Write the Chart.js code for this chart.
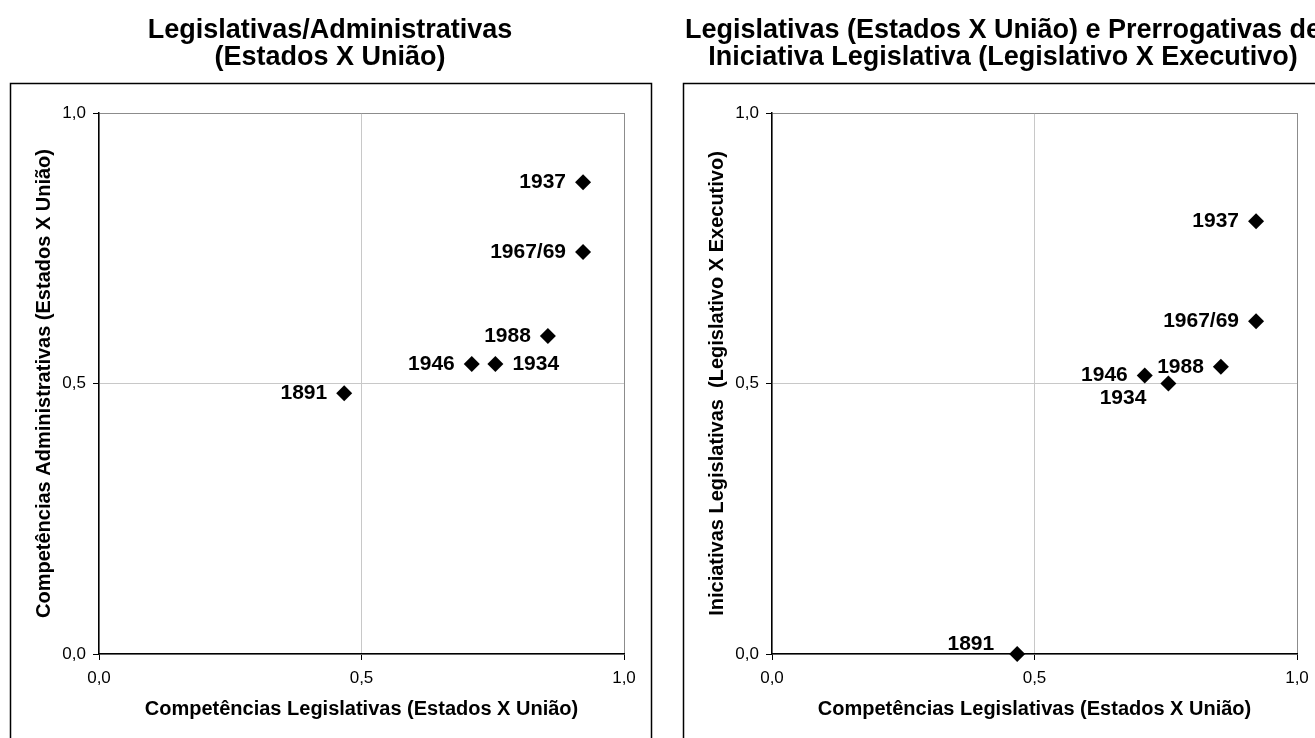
<!DOCTYPE html>
<html>
<head>
<meta charset="utf-8">
<script src="https://cdn.jsdelivr.net/npm/chart.js@4.4.0/dist/chart.umd.min.js"></script>
<style>
  html, body { margin: 0; padding: 0; background: #fff; overflow: hidden; width: 1315px; height: 738px; }
  .box { position: absolute; top: 0; width: 660px; height: 738px; }
  #boxA { left: 0; }
  #boxB { left: 673px; }
</style>
</head>
<body>
<div class="box" id="boxA"><canvas id="chartA"></canvas></div>
<div class="box" id="boxB"><canvas id="chartB"></canvas></div>
<script>
// data
const years = ['1891', '1934', '1937', '1946', '1967/69', '1988'];
const legislativas = [0.467, 0.755, 0.922, 0.710, 0.922, 0.855];
const administrativas = [0.482, 0.536, 0.872, 0.536, 0.743, 0.588];
const iniciativas = [0.0, 0.5, 0.80, 0.515, 0.615, 0.531];
const tickLabels = ['0,0', '0,5', '1,0'];

const titleA = ['Legislativas/Administrativas', '(Estados X União)'];
const titleB = ['Legislativas (Estados X União) e Prerrogativas de', 'Iniciativa Legislativa (Legislativo X Executivo)'];
const xTitle = 'Competências Legislativas (Estados X União)';
const yTitleA = 'Competências Administrativas (Estados X União)';
const yTitleB = 'Iniciativas Legislativas  (Legislativo X Executivo)';

// where each year label sits next to its diamond
const placementA = ['left', 'right', 'left', 'left', 'left', 'left'];
const placementB = ['upLeft', 'downLeft', 'left', 'left', 'left', 'left'];

const FONT = '"Liberation Sans", Arial, sans-serif';

const labelSpots = {
  left: { dx: -17, dy: 0, align: 'right' },
  right: { dx: 17, dy: 0, align: 'left' },
  upLeft: { dx: -23, dy: -10, align: 'right' },
  downLeft: { dx: -22, dy: 15, align: 'right' }
};

// outer frame + two-line title
const frameTitle = {
  id: 'frameTitle',
  beforeDraw(chart, args, opts) {
    const ctx = chart.ctx;
    ctx.save();
    ctx.fillStyle = '#fff';
    ctx.fillRect(0, 0, chart.width, chart.height);
    ctx.strokeStyle = '#000';
    ctx.lineWidth = 1.5;
    ctx.strokeRect(10.5, 83.5, 641, 720);
    ctx.fillStyle = '#000';
    ctx.font = 'bold 27px ' + FONT;
    ctx.textAlign = 'center';
    ctx.textBaseline = 'middle';
    opts.lines.forEach((t, i) => ctx.fillText(t, 330, 31 + i * 27));
    ctx.restore();
  }
};

const yearLabels = {
  id: 'yearLabels',
  afterDatasetsDraw(chart, args, opts) {
    const ctx = chart.ctx;
    const meta = chart.getDatasetMeta(0);
    ctx.save();
    ctx.font = 'bold 21px ' + FONT;
    ctx.fillStyle = '#000';
    ctx.textBaseline = 'middle';
    meta.data.forEach((pt, i) => {
      const spot = labelSpots[opts.placement[i]];
      ctx.textAlign = spot.align;
      ctx.fillText(chart.data.labels[i], pt.x + spot.dx, pt.y + spot.dy);
    });
    ctx.restore();
  }
};

function axisOptions(title, isX) {
  return {
    type: 'linear',
    min: 0,
    max: 1,
    ticks: {
      stepSize: 0.5,
      padding: isX ? 8 : 7,
      color: '#000',
      maxRotation: 0,
      font: { family: FONT, size: 17 },
      callback: (v, i) => tickLabels[i]
    },
    grid: {
      color: c => (c.tick && c.tick.value === 1) ? '#8c8c8c' : '#c8c8c8',
      tickColor: '#000',
      tickLength: 6,
      lineWidth: 1
    },
    border: { color: '#000', width: 1.5 },
    title: {
      display: true,
      text: title,
      color: '#000',
      font: { family: FONT, size: 20, weight: 'bold' },
      padding: isX ? { top: 0, bottom: 17 } : { top: 22, bottom: 0 }
    },
    afterFit(s) {
      if (isX) s.height = 84; else s.width = 89;
      s.paddingLeft = s.paddingRight = s.paddingTop = s.paddingBottom = 0;
    }
  };
}

function buildChart(canvasId, yValues, yTitle, lines, placement) {
  const points = legislativas.map((x, i) => ({ x: x, y: yValues[i] }));
  return new Chart(document.getElementById(canvasId), {
    type: 'scatter',
    data: {
      labels: years,
      datasets: [{
        data: points,
        pointStyle: 'rectRot',
        pointRadius: 8,
        pointHoverRadius: 8,
        backgroundColor: '#000',
        borderColor: '#000',
        borderWidth: 0,
        clip: false
      }]
    },
    options: {
      responsive: true,
      maintainAspectRatio: false,
      animation: false,
      layout: { padding: { left: 10, top: 113, right: 36, bottom: 0 } },
      plugins: {
        legend: { display: false },
        tooltip: { enabled: false },
        frameTitle: { lines: lines },
        yearLabels: { placement: placement }
      },
      scales: {
        x: axisOptions(xTitle, true),
        y: axisOptions(yTitle, false)
      }
    },
    plugins: [frameTitle, yearLabels]
  });
}

buildChart('chartA', administrativas, yTitleA, titleA, placementA);
buildChart('chartB', iniciativas, yTitleB, titleB, placementB);
</script>
</body>
</html>
